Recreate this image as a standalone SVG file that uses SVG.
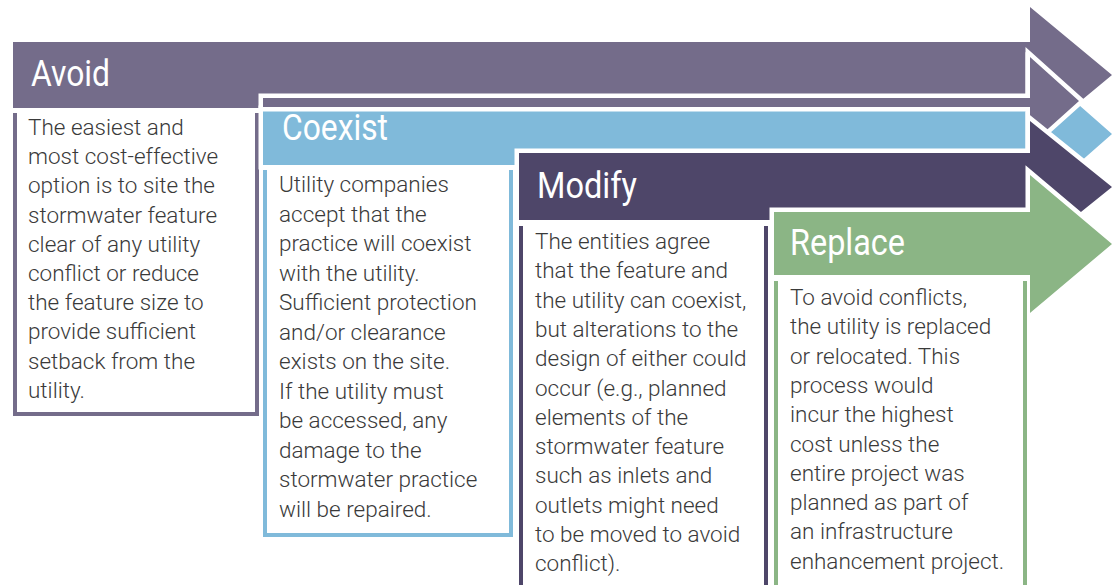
<svg xmlns="http://www.w3.org/2000/svg" width="1118" height="585" viewBox="0 0 1118 585">
<style>
.arr{stroke:#ffffff;stroke-width:9;stroke-linejoin:miter;paint-order:stroke}
.box{fill:none;stroke-width:4}
.title{font-family:Roboto,"Liberation Sans",sans-serif;font-size:36px;fill:#ffffff;font-weight:400}
.body{font-family:"Roboto Light",Roboto,"Liberation Sans",sans-serif;font-size:22.5px;font-weight:300;fill:#3a3a3a}
.c1{fill:#746c8a}.c2{fill:#80bada}.c3{fill:#4e4669}.c4{fill:#8bb585}
.s1{stroke:#746c8a}.s2{stroke:#80bada}.s3{stroke:#4e4669}.s4{stroke:#8bb585}
</style>
<rect width="1118" height="585" fill="#ffffff"/>
<g id="avoid">
<polygon class="c1" points="13,42 1030,42 1030,7 1112,75 1030,143 1030,108 13,108"/>
<path class="box s1" d="M15,113 V414 H257 V113"/>
<text class="title" x="31" y="86" textLength="79" lengthAdjust="spacingAndGlyphs">Avoid</text>
<text class="body"><tspan x="28" y="135">The easiest and</tspan><tspan x="28" dy="29.2">most cost-effective</tspan><tspan x="28" dy="29.2">option is to site the</tspan><tspan x="28" dy="29.2">stormwater feature</tspan><tspan x="28" dy="29.2">clear of any utility</tspan><tspan x="28" dy="29.2">conflict or reduce</tspan><tspan x="28" dy="29.2">the feature size to</tspan><tspan x="28" dy="29.2">provide sufficient</tspan><tspan x="28" dy="29.2">setback from the</tspan><tspan x="28" dy="29.2">utility.</tspan></text>
</g>
<g id="coexist">
<polygon class="arr c2" points="263,110 1030,110 1030,62 1112,134 1030,206 1030,165 263,165"/>
<polygon class="arr c1" points="263,98 1030,98 1030,57 1079,101 1030,145 1030,107 263,107"/>
<path class="box s2" d="M265,170 V535 H511 V170"/>
<text class="title" x="282" y="140" textLength="106" lengthAdjust="spacingAndGlyphs">Coexist</text>
<text class="body"><tspan x="279" y="192">Utility companies</tspan><tspan x="279" dy="29.5">accept that the</tspan><tspan x="279" dy="29.5">practice will coexist</tspan><tspan x="279" dy="29.5">with the utility.</tspan><tspan x="279" dy="29.5">Sufficient protection</tspan><tspan x="279" dy="29.5">and/or clearance</tspan><tspan x="279" dy="29.5">exists on the site.</tspan><tspan x="279" dy="29.5">If the utility must</tspan><tspan x="279" dy="29.5">be accessed, any</tspan><tspan x="279" dy="29.5">damage to the</tspan><tspan x="279" dy="29.5">stormwater practice</tspan><tspan x="279" dy="29.5">will be repaired.</tspan></text>
</g>
<g id="modify">
<polygon class="arr c3" points="519,153 1030,153 1030,121 1112,187 1030,253 1030,220 519,220"/>
<path class="box s3" d="M521,226 V600 H766 V226"/>
<text class="title" x="537" y="198" textLength="100" lengthAdjust="spacingAndGlyphs">Modify</text>
<text class="body"><tspan x="535" y="249">The entities agree</tspan><tspan x="535" dy="29.3">that the feature and</tspan><tspan x="535" dy="29.3">the utility can coexist,</tspan><tspan x="535" dy="29.3">but alterations to the</tspan><tspan x="535" dy="29.3">design of either could</tspan><tspan x="535" dy="29.3">occur (e.g., planned</tspan><tspan x="535" dy="29.3">elements of the</tspan><tspan x="535" dy="29.3">stormwater feature</tspan><tspan x="535" dy="29.3">such as inlets and</tspan><tspan x="535" dy="29.3">outlets might need</tspan><tspan x="535" dy="29.3">to be moved to avoid</tspan><tspan x="535" dy="29.3">conflict).</tspan></text>
</g>
<g id="replace">
<polygon class="arr c4" points="774,212 1030,212 1030,175 1112,244 1030,313 1030,275 774,275"/>
<path class="box s4" d="M776,281 V600 H1025 V281"/>
<text class="title" x="790" y="255" textLength="115" lengthAdjust="spacingAndGlyphs">Replace</text>
<text class="body"><tspan x="790" y="305">To avoid conflicts,</tspan><tspan x="790" dy="29.3">the utility is replaced</tspan><tspan x="790" dy="29.3">or relocated. This</tspan><tspan x="790" dy="29.3">process would</tspan><tspan x="790" dy="29.3">incur the highest</tspan><tspan x="790" dy="29.3">cost unless the</tspan><tspan x="790" dy="29.3">entire project was</tspan><tspan x="790" dy="29.3">planned as part of</tspan><tspan x="790" dy="29.3">an infrastructure</tspan><tspan x="790" dy="29.3">enhancement project.</tspan></text>
</g>
<g id="connectors"></g>
</svg>
